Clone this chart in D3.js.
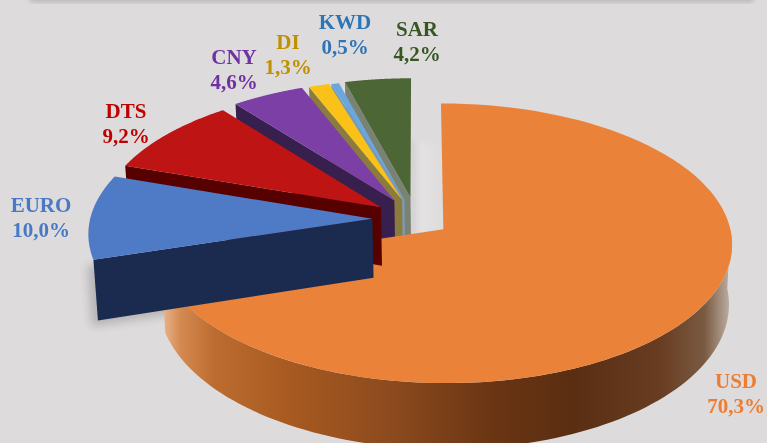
<!DOCTYPE html>
<html><head><meta charset="utf-8">
<script src="https://cdnjs.cloudflare.com/ajax/libs/d3/7.8.5/d3.min.js"></script>
<style>html,body{margin:0;padding:0;background:#dddbdc;overflow:hidden}svg{display:block}
text{font-family:"Liberation Serif",serif;font-weight:700;font-size:21px;text-anchor:middle}</style>
</head><body><svg id="c" width="767" height="443"></svg>
<script>
const categories=["USD","EURO","DTS","CNY","DI","KWD","SAR"];
const shares=[70.3,10.0,9.2,4.6,1.3,0.5,4.2];
const shareLabels=["70,3%","10,0%","9,2%","4,6%","1,3%","0,5%","4,2%"];

const topColors=["#ea823a","#4f7ac5","#bf1414","#7c3fa5","#fac218","#6ba6dc","#4c6635"];
const wallColors=["#8a4a1e","#1a2b4f","#560000","#371f4e","#8b7b3f","#7d9bb0","#7a8273"];
const labelColors=["#ed7d31","#4a78c4","#c00000","#7030a0","#bf9000","#2e75b6","#385723"];
const explode=[0.113,0.155,0.155,0.16,0.16,0.16,0.175];
const radii=[0.99,0.98,0.98,0.985,0.985,0.985,0.98];
const lifts=[1,2,1.5,1.5,1,0.5,0];
const labelPos=[[736,388],[41,212],[126,118],[234,64],[288,49],[345,29],[417,36]];
const paintOrder=[6,5,4,3,0,2,1];

const W=767,H=443,K=0.1,WALL=59;
const xs=d3.scaleLinear().domain([-1,1]).range([417-288,417+288]);
const ys=d3.scaleLinear().domain([-1,1]).range([221-138,221+138]);
const persp=(X,Y)=>1/(1-K*Y);
const vanish=470,conv=0.012;
const svg=d3.select("#c");
const defs=svg.append("defs");
const grad=defs.append("linearGradient").attr("id","usdWall").attr("gradientUnits","userSpaceOnUse")
  .attr("x1",163).attr("x2",733).attr("y1",0).attr("y2",0);
[[0,"#e8b48c"],[0.03,"#d58a52"],[0.09,"#bc6c30"],[0.22,"#a85a20"],[0.4,"#8c4a1e"],[0.58,"#6a3513"],[0.72,"#5a2e12"],[0.87,"#683c20"],[0.95,"#7a5a42"],[1,"#c5b8ae"]]
  .forEach(([o,c])=>grad.append("stop").attr("offset",o).attr("stop-color",c));
const blur=defs.append("filter").attr("id","soft").attr("x","-30%").attr("y","-30%").attr("width","160%").attr("height","160%");
blur.append("feGaussianBlur").attr("stdDeviation",5);
const soft2=defs.append("filter").attr("id","soft2").attr("x","-30%").attr("y","-30%").attr("width","160%").attr("height","160%");
soft2.append("feGaussianBlur").attr("stdDeviation",2.5);
const tb=defs.append("filter").attr("id","tb");tb.append("feGaussianBlur").attr("stdDeviation",0.35);
const sg=defs.append("linearGradient").attr("id","gap").attr("x1",0).attr("x2",1).attr("y1",0).attr("y2",0);
[[0,"#cbc9ca"],[0.3,"#e4e3e3"],[1,"#dddbdc"]].forEach(([o,c])=>sg.append("stop").attr("offset",o).attr("stop-color",c));

const arcs=d3.pie().sort(null).startAngle(0).endAngle(2*Math.PI)(shares);
const line=d3.line().curve(d3.curveLinear);

const geo=arcs.map((a,i)=>{
  const m=(a.startAngle+a.endAngle)/2;
  return {a,i,r:radii[i],lift:lifts[i],ox:explode[i]*Math.sin(m),oy:-explode[i]*Math.cos(m)};
});
const topPt=(g,X,Y)=>{const wx=g.ox+X*g.r,wy=g.oy+Y*g.r,s=persp(wx,wy);return [xs(wx*s),ys(wy*s)-g.lift];};
const lowPt=(g,X,Y)=>{const wx=g.ox+X*g.r,wy=g.oy+Y*g.r,s=persp(wx,wy),px=xs(wx*s),py=ys(wy*s)-g.lift;
  return [px+(vanish-px)*conv,py+WALL*s];};
const rim=(g,t0,t1)=>d3.range(0,97).map(k=>t0+(t1-t0)*k/96);
const polar=t=>[Math.sin(t),-Math.cos(t)];

function wedge(g){
  const pts=[topPt(g,0,0),...rim(g,g.a.startAngle,g.a.endAngle).map(t=>topPt(g,...polar(t)))];
  return line(pts)+"Z";
}
function edgeWall(g){
  const p=polar(g.a.startAngle);
  return line([topPt(g,0,0),topPt(g,...p),lowPt(g,...p),lowPt(g,0,0)])+"Z";
}
function usdWall(g){
  const ts=d3.range(0,97).map(k=>Math.PI*0.5+(g.a.endAngle-Math.PI*0.5)*k/96);
  const a=ts.map(t=>topPt(g,...polar(t)));
  const b=ts.map(t=>lowPt(g,...polar(t))).reverse();
  return line([...a,...b])+"Z";
}
svg.append("path").attr("d",edgeWall(geo[1]))
  .attr("transform","translate(-6,6)").attr("fill","#000").attr("opacity",0.18).attr("filter","url(#soft)");
svg.append("rect").attr("x",30).attr("y",-4).attr("width",723).attr("height",6).attr("fill","#a8a6a7").attr("filter","url(#soft2)").attr("opacity",0.75);
svg.append("path").attr("d",line([topPt(geo[6],0,-0.45),topPt(geo[0],0,-0.65),topPt(geo[0],0,0),topPt(geo[6],0,0.3)])+"Z").attr("fill","url(#gap)").attr("filter","url(#soft2)");

paintOrder.forEach(i=>{
  const g=geo[i];
  if(i===0){
    svg.append("path").attr("class","wall").attr("d",usdWall(g)).attr("fill","url(#usdWall)");
  } else {
    svg.append("path").attr("class","wall").attr("d",edgeWall(g)).attr("fill",wallColors[i]);
  }
  svg.append("path").attr("class","top").attr("d",wedge(g)).attr("fill",topColors[i]);
});

categories.forEach((c,i)=>{
  const t=svg.append("g").attr("filter","url(#tb)").attr("fill",labelColors[i]);
  t.append("text").attr("x",labelPos[i][0]).attr("y",labelPos[i][1]).text(c);
  t.append("text").attr("x",labelPos[i][0]).attr("y",labelPos[i][1]+25).text(shareLabels[i]);
});
</script></body></html>
